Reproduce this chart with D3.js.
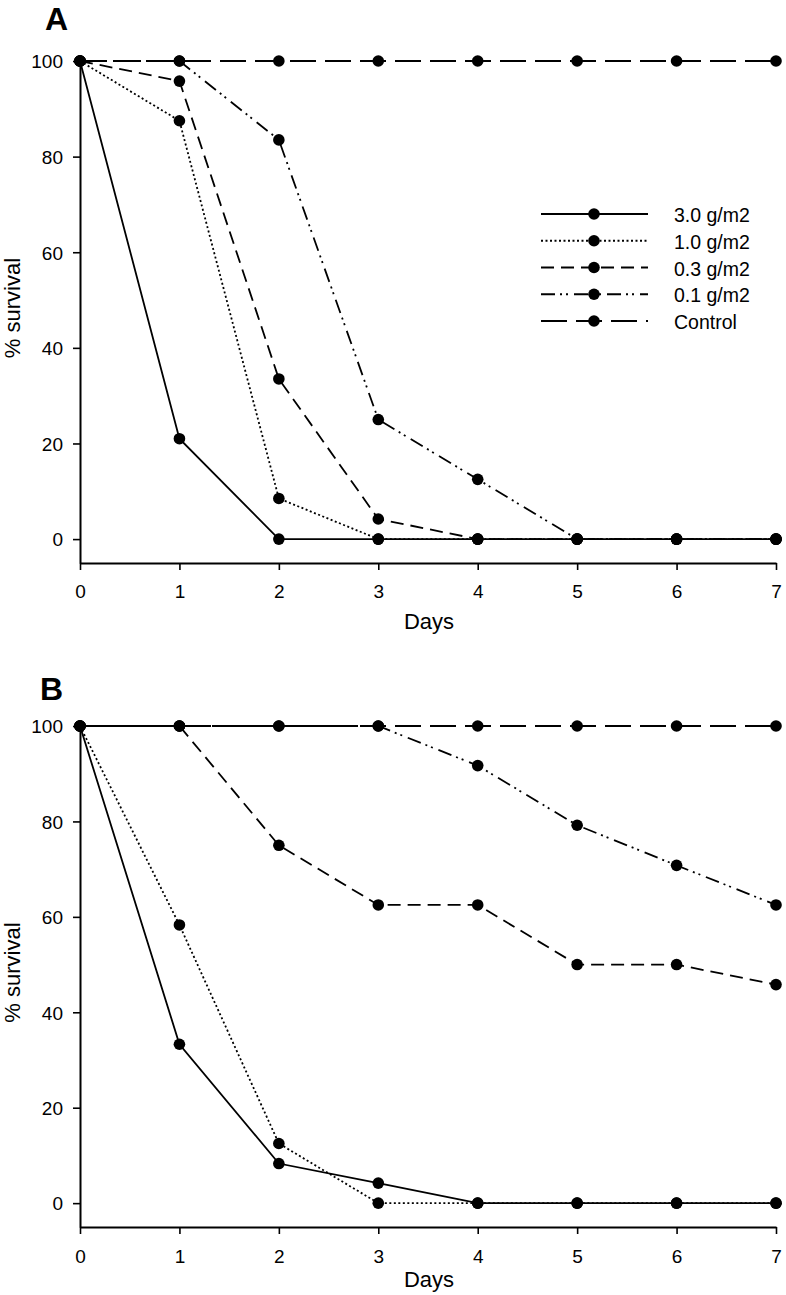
<!DOCTYPE html>
<html><head><meta charset="utf-8">
<script src="https://cdn.jsdelivr.net/npm/d3@7"></script>
<style>body{margin:0;background:#fff}svg{display:block}</style>
</head><body>
<svg id="c" width="786" height="1295" font-family="'Liberation Sans',Arial,sans-serif"></svg>
<script>
const days = [0,1,2,3,4,5,6,7];
const seriesNames = ["3.0 g/m2","1.0 g/m2","0.3 g/m2","0.1 g/m2","Control"];
const xTicks = [0,1,2,3,4,5,6,7];
const yTicks = [0,20,40,60,80,100];
// Panel A
const a30 = [100,21,0,0,0,0,0,0];
const a10 = [100,87.5,8.5,0,0,0,0,0];
const a03 = [100,95.8,33.5,4.2,0,0,0,0];
const a01 = [100,100,83.5,25,12.5,0,0,0];
const aCtl = [100,100,100,100,100,100,100,100];
// Panel B
const b30 = [100,33.3,8.3,4.2,0,0,0,0];
const b10 = [100,58.3,12.5,0,0,0,0,0];
const b03 = [100,100,75,62.5,62.5,50,50,45.8];
const b01 = [100,100,100,100,91.7,79.2,70.8,62.5];
const bCtl = [100,100,100,100,100,100,100,100];

const dashes = [null,"2,2.5","13,7","14,5,2,4,2,6","26,9"];
const FONT = "'Liberation Sans',Arial,sans-serif";
const svg = d3.select("#c");

function panel(label, top, bottom, data, opt){
  const x = d3.scaleLinear().domain([0,7]).range([80,776]);
  const y = d3.scaleLinear().domain([-5,100]).range([bottom, top]);
  const g = svg.append("g");
  const xa = g.append("g").attr("transform",`translate(0,${bottom})`)
    .call(d3.axisBottom(x).tickValues(xTicks).tickSize(7).tickSizeOuter(0).tickFormat(d3.format("d")));
  const ya = g.append("g").attr("transform",`translate(80,0)`)
    .call(d3.axisLeft(y).tickValues(yTicks).tickSize(7).tickSizeOuter(0).tickFormat(d3.format("d")));
  [xa,ya].forEach(a=>{
    a.attr("font-family",FONT).attr("font-size",19);
    a.select(".domain").attr("stroke","#000").attr("stroke-width",2);
    a.selectAll(".tick line").attr("stroke","#000").attr("stroke-width",1.6);
    a.selectAll(".tick text").attr("fill","#000");
  });
  xa.selectAll(".tick text").attr("y",0).attr("dy",null).attr("transform",`translate(0,${opt.xLab})`);
  ya.selectAll(".tick text").attr("x",-17).attr("dy","0.36em");
  g.append("text").attr("x",429).attr("y",bottom+opt.days).attr("text-anchor","middle")
    .attr("font-size",22).text("Days");
  g.append("text").attr("transform",`translate(20,${(top+bottom)/2-4}) rotate(-90)`)
    .attr("text-anchor","middle").attr("font-size",22).text("% survival");
  g.append("text").attr("x",opt.lx).attr("y",opt.ly).attr("font-size",32)
    .attr("font-weight","bold").text(label);

  const line = d3.line().x((d,i)=>x(days[i])).y(d=>y(d));
  for(let k=data.length-1;k>=0;k--){
    g.append("path").datum(data[k]).attr("d",line).attr("fill","none")
      .attr("stroke","#000").attr("stroke-width",1.8)
      .attr("stroke-dasharray",dashes[k]);
  }
  data.forEach(s=>{
    g.selectAll(null).data(s).enter().append("circle")
      .attr("cx",(d,i)=>x(days[i])).attr("cy",d=>y(d)).attr("r",5.8).attr("fill","#000");
  });
  if(opt.legend){
    const ly = d3.scalePoint().domain(seriesNames).range([214,321]);
    seriesNames.forEach((n,k)=>{
      const yy = ly(n);
      g.append("line").attr("x1",541).attr("x2",648).attr("y1",yy).attr("y2",yy)
        .attr("stroke","#000").attr("stroke-width",1.8)
        .attr("stroke-dasharray",dashes[k]);
      g.append("circle").attr("cx",594).attr("cy",yy).attr("r",5.8).attr("fill","#000");
      g.append("text").attr("x",674).attr("y",yy+8).attr("font-size",19.5).text(n);
    });
  }
}
panel("A",61,563,[a30,a10,a03,a01,aCtl],{legend:true,xLab:35,days:66,lx:45,ly:30});
panel("B",726,1227,[b30,b10,b03,b01,bCtl],{legend:false,xLab:36,days:60,lx:40,ly:700});
</script>
</body></html>
